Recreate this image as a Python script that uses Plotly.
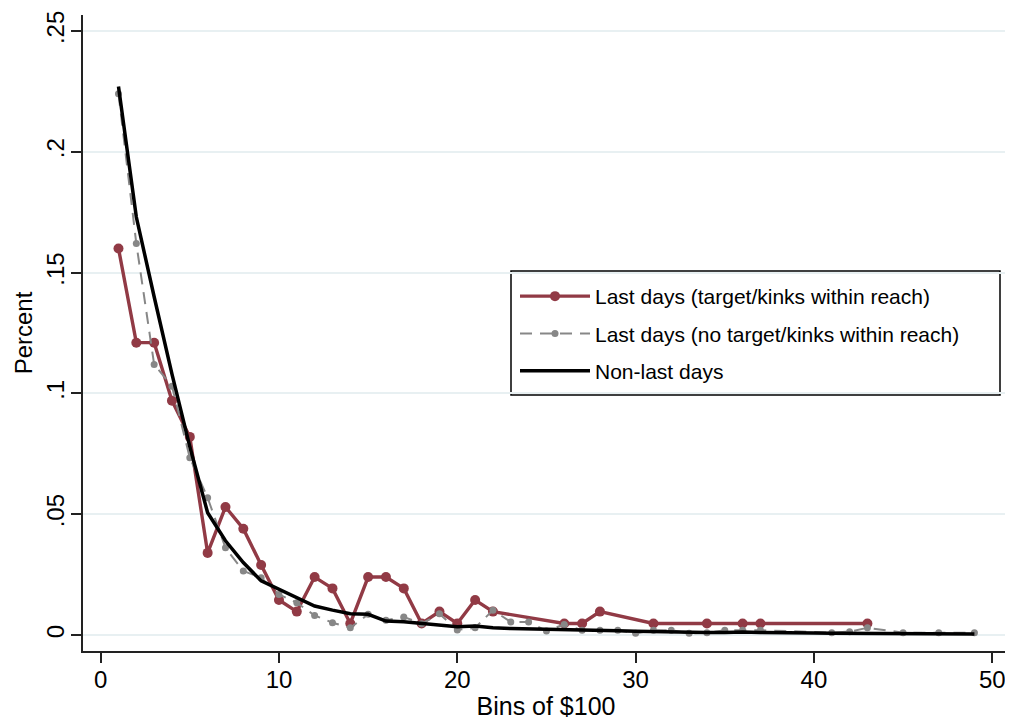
import plotly.graph_objects as go

# ---- data ----
x_target = [1, 2, 3, 4, 5, 6, 7, 8, 9, 10, 11, 12, 13, 14, 15, 16, 17, 18, 19, 20, 21, 22,
            26, 27, 28, 31, 34, 36, 37, 43]
y_target = [0.160, 0.121, 0.121, 0.097, 0.082, 0.034, 0.053, 0.044, 0.029, 0.0145, 0.0097,
            0.024, 0.0193, 0.0048, 0.024, 0.024, 0.0193, 0.0048, 0.0097, 0.0048, 0.0145, 0.0097,
            0.0048, 0.0048, 0.0097, 0.0048, 0.0048, 0.0048, 0.0048, 0.0048]

x_notarget = list(range(1, 38)) + [41, 42, 43, 45, 47, 49]
y_notarget = [0.224, 0.162, 0.112, 0.103, 0.0734, 0.0568, 0.0361, 0.0265, 0.0237, 0.0168,
              0.0134, 0.0081, 0.0051, 0.0030, 0.0086, 0.0061, 0.0075, 0.0047, 0.0088, 0.0021,
              0.0030, 0.0103, 0.0054, 0.0054, 0.0017, 0.0044, 0.0020, 0.0020, 0.0020, 0.0007,
              0.0020, 0.0020, 0.0007, 0.0010, 0.0020, 0.0020, 0.0020,
              0.0010, 0.0014, 0.0030, 0.0010, 0.0010, 0.0010]

x_nonlast = list(range(1, 50))
y_nonlast = [0.227, 0.173, 0.140, 0.108, 0.078, 0.0506, 0.039, 0.030, 0.0224, 0.019,
             0.0154, 0.012, 0.0103, 0.0088, 0.0086, 0.0058, 0.0055, 0.0048, 0.0041, 0.0034,
             0.0037, 0.0030, 0.0027, 0.0026, 0.0025, 0.0023, 0.0021, 0.0019, 0.0018, 0.0016,
             0.0014, 0.0013, 0.0012, 0.0011, 0.0011, 0.0013, 0.0011, 0.0009, 0.0008, 0.0008,
             0.0007, 0.0007, 0.0006, 0.0006, 0.0005, 0.0005, 0.0005, 0.0005, 0.0004]

y_tickvals = [0, 0.05, 0.1, 0.15, 0.2, 0.25]
y_ticktext = ["0", ".05", ".1", ".15", ".2", ".25"]
x_tickvals = [0, 10, 20, 30, 40, 50]

names = ["Last days (target/kinks within reach)",
         "Last days (no target/kinks within reach)",
         "Non-last days"]

RED = "#913a45"
GRAY = "#878787"
FONT = "Liberation Sans, Arial, sans-serif"

# The page body has an 8px margin, so the figure is 8px smaller and all
# pixel positions below are in figure coordinates (window coords minus 8).
OFF = 8
W, H = 1013 - OFF, 725 - OFF
L, R, T, B = 83 - OFF, 1009 - OFF, 15 - OFF, 651 - OFF

def px_x(p):
    return (p - OFF - L) / (R - L)

def px_y(p):
    return (B - (p - OFF)) / (B - T)

fig = go.Figure()
fig.add_trace(go.Scatter(
    x=x_target, y=y_target, name=names[0], mode="lines+markers",
    line=dict(color=RED, width=3.4), marker=dict(color=RED, size=10),
    legendgroup="a"))
fig.add_trace(go.Scatter(
    x=x_notarget, y=y_notarget, name=names[1], mode="lines+markers",
    line=dict(color=GRAY, width=2, dash="12px,8px"), marker=dict(color=GRAY, size=7),
    legendgroup="b"))
fig.add_trace(go.Scatter(
    x=x_nonlast, y=y_nonlast, name=names[2], mode="lines",
    line=dict(color="black", width=3.5),
    legendgroup="c"))

fig.update_layout(
    width=W, height=H,
    margin=dict(l=L, r=W - R, t=T, b=H - B),
    paper_bgcolor="white", plot_bgcolor="white",
    font=dict(family=FONT, color="black"),
    showlegend=True,
    legend=dict(
        x=px_x(515), y=px_y(276), xanchor="left", yanchor="top",
        bgcolor="rgba(0,0,0,0)", borderwidth=0,
        font=dict(size=21, family=FONT), tracegroupgap=7,
        itemwidth=70,
    ),
    shapes=[dict(
        type="rect", xref="paper", yref="paper",
        x0=px_x(511), x1=px_x(1000), y0=px_y(395), y1=px_y(271),
        line=dict(color="black", width=1.5), fillcolor="white", layer="below",
    )],
    xaxis=dict(
        range=[-0.99, 50.94], tickvals=x_tickvals, ticks="outside", ticklen=10,
        tickwidth=1.5, tickcolor="#222", showline=True, linecolor="#222", linewidth=1.5,
        showgrid=False, zeroline=False, tickfont=dict(size=24), automargin=False,
        ticklabelstandoff=-4,
        title=dict(text="Bins of $100", font=dict(size=25), standoff=6),
    ),
    yaxis=dict(
        range=[-0.0066, 0.2566], tickvals=y_tickvals, ticktext=y_ticktext,
        ticks="outside", ticklen=10, tickwidth=1.5, tickcolor="#222",
        showline=True, linecolor="#222", linewidth=1.5,
        showgrid=True, gridcolor="#e8f0f2", gridwidth=1.5, zeroline=False,
        tickangle=-90, tickfont=dict(size=24), automargin=False,
        ticklabelstandoff=-2,
        title=dict(text="Percent", font=dict(size=24), standoff=2),
    ),
)

fig.write_html("out.html")
